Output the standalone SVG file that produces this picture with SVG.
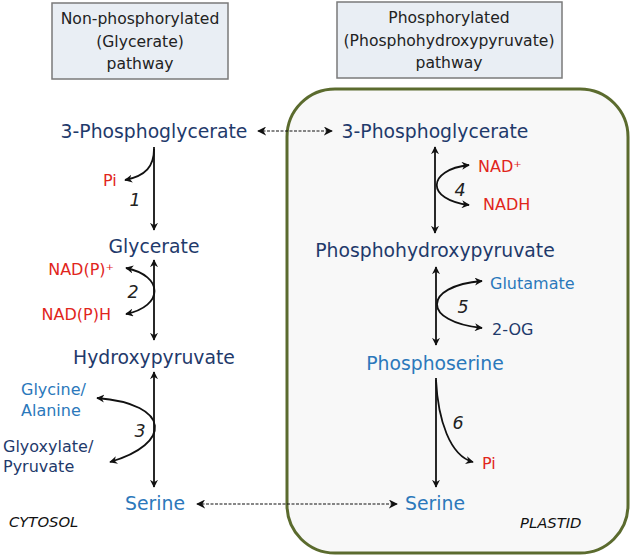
<svg xmlns="http://www.w3.org/2000/svg" width="633" height="560" viewBox="0 0 633 560">
<style>
text{font-family:"DejaVu Sans","Verdana",sans-serif}
.hdr{font-size:15.6px;fill:#222;text-anchor:middle}
.met{font-size:18.8px;text-anchor:middle}
.sm{font-size:16px}
.navy{fill:#1f3a6b}
.blue{fill:#2b78bb}
.red{fill:#e1251b}
.num{font-size:17.5px;font-style:italic;fill:#222;text-anchor:middle}
.comp{font-size:14.8px;font-style:italic;fill:#111}
.ln{fill:none;stroke:#111;stroke-width:1.8}
.dash{fill:none;stroke:#111;stroke-width:1.2;stroke-dasharray:3,1.5}
</style>
<defs>
<marker id="ah" viewBox="0 0 10 10" refX="9" refY="5" markerWidth="8" markerHeight="8" markerUnits="userSpaceOnUse" orient="auto-start-reverse">
<path d="M0,0 L10,5 L0,10 L3,5 z" fill="#111"/>
</marker>
<marker id="ahs" viewBox="0 0 10 10" refX="9" refY="5" markerWidth="9" markerHeight="9" markerUnits="userSpaceOnUse" orient="auto-start-reverse">
<path d="M0,0 L10,5 L0,10 L3,5 z" fill="#111"/>
</marker>
</defs>

<g id="plastid">
<rect x="287" y="89" width="341" height="464" rx="48" ry="48" fill="#f8f8f8" stroke="#5b6b2e" stroke-width="3"/>
<text class="comp" x="520" y="528">PLASTID</text>
</g>
<g id="cytosol">
<text class="comp" x="9" y="527">CYTOSOL</text>
</g>

<g id="header-nonphos">
<rect x="52" y="3" width="176" height="76" fill="#e9eef4" stroke="#7a7a7a" stroke-width="1.5"/>
<text class="hdr" x="140" y="24">Non-phosphorylated</text>
<text class="hdr" x="140" y="47">(Glycerate)</text>
<text class="hdr" x="140" y="69">pathway</text>
</g>
<g id="header-phos">
<rect x="337" y="2" width="225" height="76" fill="#e9eef4" stroke="#7a7a7a" stroke-width="1.5"/>
<text class="hdr" x="449" y="23">Phosphorylated</text>
<text class="hdr" x="449" y="46">(Phosphohydroxypyruvate)</text>
<text class="hdr" x="449" y="68">pathway</text>
</g>

<g id="pga-cyt"><text class="met navy" x="154" y="138">3-Phosphoglycerate</text></g>
<g id="glycerate"><text class="met navy" x="154" y="253">Glycerate</text></g>
<g id="hydroxypyruvate"><text class="met navy" x="154" y="364">Hydroxypyruvate</text></g>
<g id="serine-cyt"><text class="met blue" x="155" y="510">Serine</text></g>

<g id="pga-pla"><text class="met navy" x="435" y="138">3-Phosphoglycerate</text></g>
<g id="phosphohydroxypyruvate"><text class="met navy" x="435" y="257">Phosphohydroxypyruvate</text></g>
<g id="phosphoserine"><text class="met blue" x="435" y="370">Phosphoserine</text></g>
<g id="serine-pla"><text class="met blue" x="435" y="510">Serine</text></g>

<g id="cofactors">
<text class="sm red" x="103" y="186">Pi</text>
<text class="sm red" x="114" y="275" text-anchor="end">NAD(P)⁺</text>
<text class="sm red" x="111" y="320" text-anchor="end">NAD(P)H</text>
<text class="sm blue" x="21" y="395">Glycine/</text>
<text class="sm blue" x="21" y="416">Alanine</text>
<text class="sm navy" x="3" y="452">Glyoxylate/</text>
<text class="sm navy" x="3" y="472">Pyruvate</text>
<text class="sm red" x="478" y="172">NAD⁺</text>
<text class="sm red" x="483" y="210">NADH</text>
<text class="sm blue" x="490" y="289">Glutamate</text>
<text class="sm navy" x="492" y="335">2-OG</text>
<text class="sm red" x="482" y="469">Pi</text>
</g>

<g id="enzymes">
<text class="num" x="135" y="206">1</text>
<text class="num" x="133" y="298">2</text>
<text class="num" x="140" y="437">3</text>
<text class="num" x="460" y="196">4</text>
<text class="num" x="463" y="313">5</text>
<text class="num" x="458" y="429">6</text>
</g>

<g id="connectors">
<path class="ln" d="M154,147 L154,230" marker-end="url(#ah)"/>
<path class="ln" d="M154,149 C154,166 146,176 125,180" marker-end="url(#ah)"/>
<path class="ln" d="M154,260 L154,340" marker-start="url(#ah)" marker-end="url(#ah)"/>
<path class="ln" d="M126,268 C164,276 164,306 126,314" marker-start="url(#ah)" marker-end="url(#ah)"/>
<path class="ln" d="M154,372 L154,487" marker-start="url(#ah)" marker-end="url(#ah)"/>
<path class="ln" d="M97,398 C172,404 172,444 110,462" marker-start="url(#ah)" marker-end="url(#ah)"/>
<path class="dash" d="M258,131 L332,131" marker-start="url(#ahs)" marker-end="url(#ahs)"/>
<path class="dash" d="M197,504 L397,504" marker-start="url(#ahs)" marker-end="url(#ahs)"/>
<path class="ln" d="M435,147 L435,233" marker-start="url(#ah)" marker-end="url(#ah)"/>
<path class="ln" d="M469,165 C426,170 426,200 469,205" marker-start="url(#ah)" marker-end="url(#ah)"/>
<path class="ln" d="M436,267 L436,345" marker-start="url(#ah)" marker-end="url(#ah)"/>
<path class="ln" d="M482,281 C422,286 422,322 482,328" marker-start="url(#ah)" marker-end="url(#ah)"/>
<path class="ln" d="M436,378 L436,487" marker-end="url(#ah)"/>
<path class="ln" d="M436,380 C438,420 450,456 473,462" marker-end="url(#ah)"/>
</g>
</svg>
